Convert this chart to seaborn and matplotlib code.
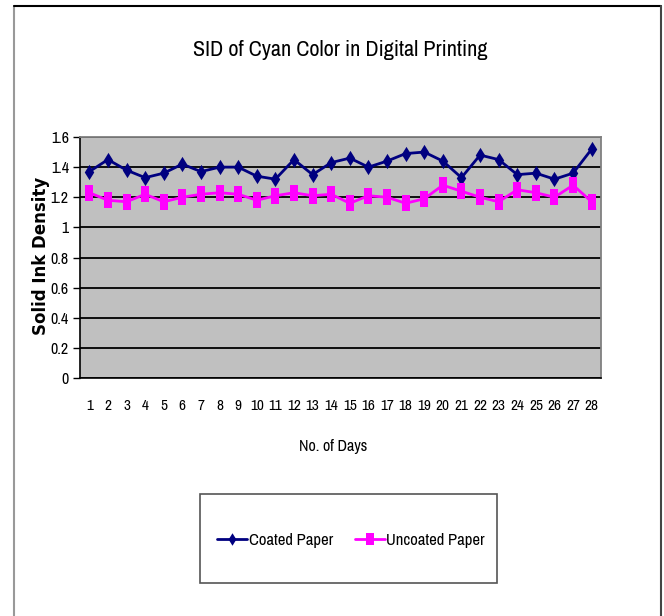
import numpy as np
import pandas as pd
import seaborn as sns
import matplotlib
matplotlib.use("Agg")
import matplotlib.pyplot as plt
from matplotlib.path import Path
from matplotlib.lines import Line2D
from matplotlib.patches import Rectangle

# Measured solid ink density per day
days = list(range(1, 29))
coated = [1.37, 1.45, 1.38, 1.33, 1.36, 1.42, 1.37, 1.40, 1.40, 1.34,
          1.32, 1.45, 1.35, 1.43, 1.46, 1.40, 1.44, 1.49, 1.50, 1.44,
          1.33, 1.48, 1.45, 1.35, 1.36, 1.32, 1.36, 1.52]
uncoated = [1.23, 1.18, 1.17, 1.22, 1.17, 1.20, 1.22, 1.23, 1.22, 1.18,
            1.21, 1.23, 1.21, 1.22, 1.16, 1.21, 1.20, 1.16, 1.19, 1.28,
            1.24, 1.20, 1.17, 1.25, 1.23, 1.20, 1.28, 1.17]
series_names = ["Coated Paper", "Uncoated Paper"]
y_ticks = [0, 0.2, 0.4, 0.6, 0.8, 1, 1.2, 1.4, 1.6]
y_tick_labels = ["0", "0.2", "0.4", "0.6", "0.8", "1", "1.2", "1.4", "1.6"]

df = pd.DataFrame({
    "day": days * 2,
    "sid": coated + uncoated,
    "paper": [series_names[0]] * len(days) + [series_names[1]] * len(days),
})

sns.set_theme(style="white")
NARROW = ["Archivo Narrow", "Liberation Sans", "DejaVu Sans"]
plt.rcParams["font.family"] = NARROW
plt.rcParams["text.color"] = "black"
plt.rcParams["xtick.color"] = "black"
plt.rcParams["ytick.color"] = "black"
plt.rcParams["axes.labelcolor"] = "black"

W, H = 664, 616
fig = plt.figure(figsize=(W / 100, H / 100), dpi=100)
fig.patch.set_facecolor("white")

def fx(px):
    return px / W

def fy(py):
    return 1 - py / H

ax = fig.add_axes([fx(80), fy(378), fx(601) - fx(80), fy(137) - fy(378)])
ax.set_facecolor("#C0C0C0")

# tall diamond and tall rectangle markers
diamond = Path([(0, 1), (0.62, 0), (0, -1), (-0.62, 0), (0, 1)],
               [Path.MOVETO, Path.LINETO, Path.LINETO, Path.LINETO, Path.CLOSEPOLY])
square = Path([(-0.58, -1), (0.58, -1), (0.58, 1), (-0.58, 1), (-0.58, -1)],
              [Path.MOVETO, Path.LINETO, Path.LINETO, Path.LINETO, Path.CLOSEPOLY])
palette = {series_names[0]: "#000080", series_names[1]: "#FF00FF"}
markers = {series_names[0]: diamond, series_names[1]: square}

sns.lineplot(data=df, x="day", y="sid", hue="paper", style="paper",
             palette=palette, markers=markers, dashes=False,
             markersize=11, linewidth=2.0, markeredgewidth=0,
             legend=False, ax=ax, zorder=3)

ax.set_xlim(0.5, 28.5)
ax.set_ylim(0, 1.6)
ax.set_yticks(y_ticks)
ax.set_yticklabels(y_tick_labels, fontsize=11.5)
ax.yaxis.grid(True, color="black", linewidth=1.3)
ax.set_axisbelow(True)

ax.set_xticks(days)
ax.set_xticklabels([str(d) for d in days], fontsize=11)
ax.set_xticks(np.arange(0.5, 29, 1), minor=True)
ax.tick_params(axis="x", which="major", length=0, pad=15)
ax.tick_params(axis="x", which="minor", length=5, width=1, color="black", direction="out")
ax.tick_params(axis="y", length=5, width=1, color="black", direction="out", left=True, pad=3)

for side in ["top", "right"]:
    ax.spines[side].set_color("#808080")
    ax.spines[side].set_linewidth(1.3)
for side in ["left", "bottom"]:
    ax.spines[side].set_color("black")
    ax.spines[side].set_linewidth(1.2)

ax.set_xlabel("No. of Days", fontsize=11.5)
ax.xaxis.set_label_coords((333 - 80) / 521, -(447 - 378) / 241)
ax.set_ylabel("Solid Ink Density", fontsize=12, fontweight="bold",
              family=["DejaVu Sans"])
ax.yaxis.set_label_coords(-(80 - 41) / 521, (378 - 256) / 241)
ax.xaxis.label.set_va("center")
ax.yaxis.label.set_va("center")

fig.text(fx(340), fy(50), "SID of Cyan Color in Digital Printing",
         ha="center", va="center", fontsize=16)

# legend box
fig.patches.append(Rectangle((fx(200), fy(583)), fx(497) - fx(200), fy(494) - fy(583),
                             transform=fig.transFigure, facecolor="white",
                             edgecolor="#555555", linewidth=1.2))
handles = [Line2D([], [], color=palette[n], marker=markers[n], markersize=9,
                  markeredgewidth=0, linewidth=2.0) for n in series_names]
fig.legend(handles, series_names, loc="center",
           bbox_to_anchor=(fx(351), fy(540)), ncol=2, frameon=False,
           fontsize=12, handlelength=1.8, handletextpad=0.1, columnspacing=1.3)

# outer chart border
fig.add_artist(Line2D([fx(14), fx(14)], [fy(6), fy(616)], color="#999999", linewidth=1.5,
                      transform=fig.transFigure))
fig.add_artist(Line2D([fx(14), fx(661)], [fy(6), fy(6)], color="black", linewidth=1.5,
                      transform=fig.transFigure))
fig.add_artist(Line2D([fx(661), fx(661)], [fy(6), fy(616)], color="#444444", linewidth=1.5,
                      transform=fig.transFigure))

fig.savefig("out.png", dpi=100)
